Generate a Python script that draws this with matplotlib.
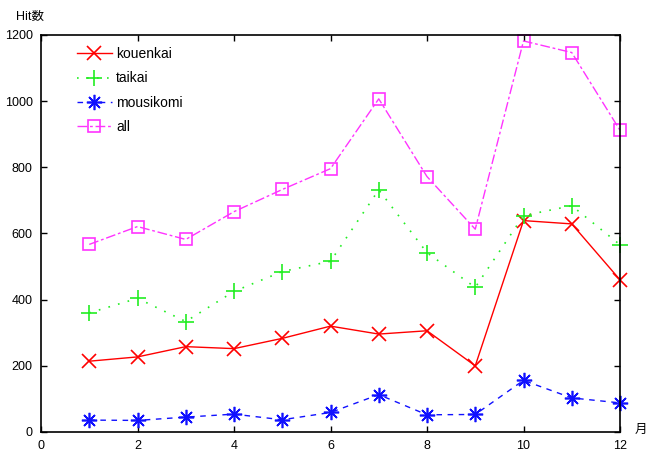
import matplotlib
matplotlib.use('Agg')
from matplotlib import pyplot as plt

plt.rcParams['font.family'] = ['Liberation Sans', 'Noto Sans CJK JP', 'DejaVu Sans']

### datos (Hit por mes)
months = [1, 2, 3, 4, 5, 6, 7, 8, 9, 10, 11, 12]
kouenkai = [214, 227, 258, 252, 283, 320, 296, 306, 200, 639, 629, 460]
taikai = [360, 404, 334, 425, 485, 516, 732, 542, 437, 654, 684, 566]
mousikomi = [36, 35, 45, 54, 37, 59, 113, 52, 53, 156, 103, 88]
all_hits = [567, 621, 582, 666, 733, 796, 1007, 772, 613, 1182, 1147, 912]

xticks = [0, 2, 4, 6, 8, 10, 12]
yticks = [0, 200, 400, 600, 800, 1000, 1200]

fig = plt.figure(figsize=(6.47, 4.54), dpi=100)
fig.subplots_adjust(left=41/647, right=620/647, bottom=1-432/454, top=1-35/454)
ax = fig.add_subplot(1, 1, 1)

ax.plot(months, kouenkai, color='#ff0000', lw=1.0, ls='-',
        marker='x', ms=10, mew=1.2, label='kouenkai', clip_on=False)
ax.plot(months, taikai, color='#22ee22', lw=1.2, ls=(0, (1, 5)),
        marker='+', ms=12, mew=1.2, label='taikai', clip_on=False)
ax.plot(months, mousikomi, color='#1111ff', lw=1.0, ls=(0, (4, 4)),
        marker=(8, 2, 0), ms=11, mew=1.2, label='mousikomi', clip_on=False)
ax.plot(months, all_hits, color='#ff33ff', lw=1.0, ls=(0, (7, 2, 2, 2)),
        marker='s', ms=9, mfc='none', mew=1.2, label='all', clip_on=False)

ax.set_xlim(0, 12)
ax.set_ylim(0, 1200)
ax.set_xticks(xticks)
ax.set_yticks(yticks)
ax.tick_params(direction='in', top=True, right=True, length=4, width=1.0,
               labelsize=9, pad=6)
for sp in ax.spines.values():
    sp.set_linewidth(1.2)

ax.legend(loc='upper left', bbox_to_anchor=(77/647, 1-47/454),
          bbox_transform=fig.transFigure, frameon=False, fontsize=10,
          borderpad=0, borderaxespad=0, handlelength=2.5, handletextpad=0.3,
          labelspacing=0.75, numpoints=1)

fig.text(16/647, 1-17/454, 'Hit数', fontsize=9, va='center', ha='left')
fig.text(635/647, 1-430/454, '月', fontsize=9, va='center', ha='left')

fig.savefig('out.png', dpi=100)
